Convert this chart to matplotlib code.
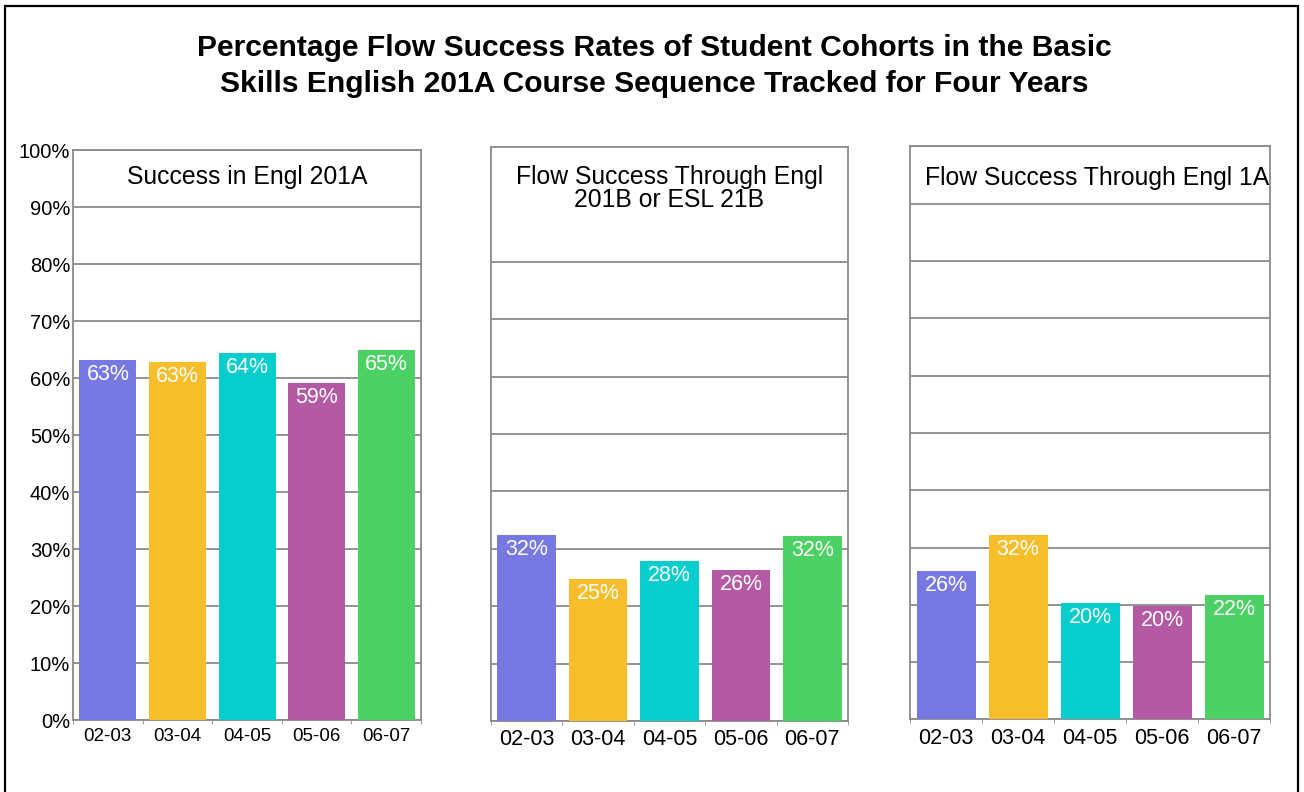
import matplotlib.pyplot as plt
import matplotlib.patches as patches

plt.rcParams['font.family'] = ['Liberation Sans', 'DejaVu Sans']

years = ["02-03", "03-04", "04-05", "05-06", "06-07"]
engl_201a = [63, 63, 64, 59, 65]
flow_201b = [32, 25, 28, 26, 32]
flow_1a = [26, 32, 20, 20, 22]
values_exact = [
    [63.2, 62.8, 64.4, 59.1, 64.9],
    [32.4, 24.7, 27.9, 26.3, 32.2],
    [25.9, 32.2, 20.3, 19.8, 21.7],
]
panel_titles = ["Success in Engl 201A",
                "Flow Success Through Engl\n201B or ESL 21B",
                "Flow Success Through Engl 1A"]
colors = ["#7878E2", "#F5BE2A", "#08CDCD", "#B45AA5", "#4BD164"]
yticks = list(range(0, 101, 10))

fig = plt.figure(figsize=(13.04, 7.92), dpi=100)

# frame around whole figure
fig.patches.append(patches.Rectangle((0.0038, -0.05), 0.9916, 1.0424, transform=fig.transFigure,
                                     fill=False, edgecolor="black", linewidth=1.6))

fig.text(0.502, 0.917, "Percentage Flow Success Rates of Student Cohorts in the Basic\n"
         "Skills English 201A Course Sequence Tracked for Four Years",
         ha="center", va="center", fontsize=21.6, fontweight="bold", linespacing=1.35)

boxes = [
    [0.056, 0.0909, 0.2669, 0.7197],
    [0.3765, 0.0896, 0.2738, 0.7247],
    [0.6979, 0.0916, 0.2761, 0.7235],
]
title_x = [0.5, 0.5, 0.52]
title_y = [0.953, 0.927, 0.945]
xlabel_size = [13.5, 15.5, 15.5]
grey = "#8a8a8a"

for i, box in enumerate(boxes):
    ax = fig.add_axes(box)
    vals = values_exact[i]
    x = range(len(years))
    bars = ax.bar(x, vals, width=0.82, color=colors, zorder=3)
    labels = [engl_201a, flow_201b, flow_1a][i]
    for b, lab in zip(bars, labels):
        ax.annotate(f"{lab}%", (b.get_x() + b.get_width() / 2, b.get_height()),
                    xytext=(0, -3), textcoords="offset points", ha="center", va="top",
                    color="white", fontsize=15.5, zorder=4)
    ax.set_xlim(-0.5, len(years) - 0.5)
    ax.set_ylim(0, 100)
    ax.set_yticks(yticks)
    ax.yaxis.grid(True, color=grey, linewidth=1.3, zorder=1)
    ax.set_axisbelow(True)
    ax.set_xticks(list(x))
    ax.set_xticklabels(years, fontsize=xlabel_size[i])
    ax.set_xticks([k + 0.5 for k in range(-1, len(years))], minor=True)
    ax.tick_params(axis="x", which="major", length=0, pad=6)
    ax.tick_params(axis="x", which="minor", length=3, color=grey)
    ax.tick_params(axis="y", length=0)
    if i == 0:
        ax.set_yticklabels([f"{t}%" for t in yticks], fontsize=14.5)
        ax.tick_params(axis="y", pad=2)
    else:
        ax.set_yticklabels([])
    for s in ax.spines.values():
        s.set_color(grey)
        s.set_linewidth(1.3)
    if i == 1:
        ax.axhspan(88.5, 100, color="white", zorder=2)
    ax.text(title_x[i], title_y[i], panel_titles[i], transform=ax.transAxes,
            ha="center", va="center", fontsize=17.8, linespacing=0.95, zorder=5, clip_on=False)

fig.savefig("out.png", dpi=100)
